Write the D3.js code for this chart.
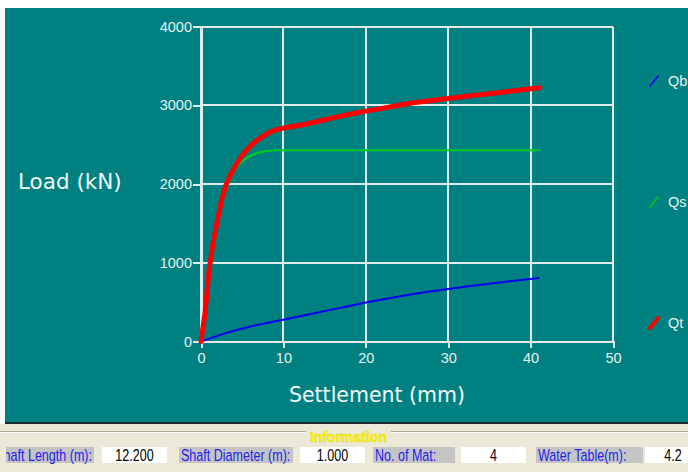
<!DOCTYPE html>
<html>
<head>
<meta charset="utf-8">
<script src="https://cdn.jsdelivr.net/npm/d3@7"></script>
<style>
  html, body { margin: 0; padding: 0; background: #ffffff; }
  svg { display: block; }
</style>
</head>
<body>
<svg id="chart" width="688" height="472"></svg>
<script>
// Pile load–settlement response
const settlement = [0, 0.5, 1, 1.5, 2, 2.5, 3, 3.5, 4, 5, 6, 7, 8, 9, 10, 12, 14, 16, 18, 20, 22, 24, 26, 28, 30, 32, 34, 36, 38, 40, 41];
const qb = [0, 18, 36, 54, 72, 90, 106, 121, 136, 164, 190, 214, 236, 257, 277, 320, 364, 408, 452, 494, 534, 572, 607, 639, 668, 696, 722, 747, 771, 794, 805];
const qs = [0, 355, 900, 1230, 1495, 1740, 1920, 2060, 2170, 2290, 2360, 2400, 2420, 2427, 2428, 2428, 2428, 2428, 2428, 2428, 2428, 2428, 2428, 2428, 2428, 2428, 2428, 2428, 2428, 2428, 2428];
const qt = [0, 370, 930, 1270, 1540, 1800, 1980, 2100, 2200, 2365, 2485, 2570, 2640, 2685, 2710, 2745, 2790, 2840, 2885, 2925, 2960, 3000, 3035, 3060, 3085, 3110, 3135, 3160, 3185, 3210, 3222];
const seriesNames = ["Qb", "Qs", "Qt"];
const xTicks = [0, 10, 20, 30, 40, 50];
const yTicks = [0, 1000, 2000, 3000, 4000];

// Information strip
const infoLabels = ["Shaft Length (m):", "Shaft Diameter (m):", "No. of Mat:", "Water Table(m):"];
const infoValues = ["12.200", "1.000", "4", "4.2"];

const svg = d3.select("#chart");
const TEAL = "#008080";
const seriesStyle = {
  Qb: { color: "#0000f0", width: 2 },
  Qs: { color: "#00cc22", width: 2 },
  Qt: { color: "#ff0000", width: 5 }
};
const seriesData = { Qb: qb, Qs: qs, Qt: qt };

// chart panel
svg.append("rect").attr("x", 5).attr("y", 8).attr("width", 683).attr("height", 415).attr("fill", TEAL);
svg.append("rect").attr("x", 5).attr("y", 422).attr("width", 683).attr("height", 2).attr("fill", "#1c2b2b");

const x = d3.scaleLinear().domain([0, 50]).range([201, 613]);
const y = d3.scaleLinear().domain([0, 4000]).range([341.5, 26.5]);

const gridColor = "#e2eaea";
const g = svg.append("g");

// grid lines
g.selectAll("line.vgrid").data(xTicks).join("line")
  .attr("class", "vgrid")
  .attr("x1", d => x(d)).attr("x2", d => x(d))
  .attr("y1", y(4000)).attr("y2", y(0))
  .attr("stroke", gridColor).attr("stroke-width", 2).attr("shape-rendering", "crispEdges");
g.selectAll("line.hgrid").data(yTicks).join("line")
  .attr("class", "hgrid")
  .attr("x1", x(0)).attr("x2", x(50))
  .attr("y1", d => y(d)).attr("y2", d => y(d))
  .attr("stroke", gridColor).attr("stroke-width", 2).attr("shape-rendering", "crispEdges");

// axes
const tickFont = "'Liberation Sans', Arial, sans-serif";
const yAxis = g.append("g").attr("transform", `translate(${x(0)},0)`)
  .call(d3.axisLeft(y).tickValues(yTicks).tickSize(8).tickPadding(1).tickFormat(d3.format("d")));
const xAxis = g.append("g").attr("transform", `translate(0,${y(0)})`)
  .call(d3.axisBottom(x).tickValues(xTicks).tickSize(6).tickPadding(5).tickFormat(d3.format("d")));
[yAxis, xAxis].forEach(a => {
  a.select(".domain").attr("stroke", gridColor).attr("stroke-width", 2).attr("shape-rendering", "crispEdges");
  a.selectAll(".tick line").attr("stroke", gridColor).attr("stroke-width", 2).attr("shape-rendering", "crispEdges");
  a.selectAll(".tick text").attr("fill", "#e6f0f0").style("font-family", tickFont).style("font-size", "14.5px");
});

// axis titles
svg.append("text").attr("x", 18).attr("y", 189)
  .attr("fill", "#f2f8f8").style("font-family", "'DejaVu Sans', sans-serif").style("font-size", "21.5px")
  .text("Load (kN)");
svg.append("text").attr("x", 377).attr("y", 402).attr("text-anchor", "middle")
  .attr("fill", "#f2f8f8").style("font-family", "'DejaVu Sans', sans-serif").style("font-size", "20.5px")
  .text("Settlement (mm)");

// series lines
const line = d3.line().x((d, i) => x(settlement[i])).y(d => y(d));
g.selectAll("path.series").data(seriesNames).join("path")
  .attr("class", "series")
  .attr("d", n => line(seriesData[n]))
  .attr("fill", "none")
  .attr("stroke", n => seriesStyle[n].color)
  .attr("stroke-width", n => seriesStyle[n].width)
  .attr("stroke-linejoin", "round")
  .attr("stroke-linecap", "round");

// legend
const legend = svg.append("g");
const legendItem = legend.selectAll("g").data(seriesNames).join("g")
  .attr("transform", (d, i) => `translate(650,${81 + i * 121})`);
legendItem.append("line")
  .attr("x1", 0).attr("y1", 5).attr("x2", 8).attr("y2", -5)
  .attr("stroke", d => seriesStyle[d].color)
  .attr("stroke-width", d => seriesStyle[d].width === 2 ? 1.6 : 4)
  .attr("stroke-linecap", "round");
legendItem.append("text")
  .attr("x", 18).attr("y", 5)
  .attr("fill", "#e6f0f0").style("font-family", tickFont).style("font-size", "14.5px")
  .text(d => d);

// information strip
svg.append("rect").attr("x", 0).attr("y", 424).attr("width", 688).attr("height", 48).attr("fill", "#ece9d8");
[[0, 306], [391, 688]].forEach(([a, b]) => {
  svg.append("line").attr("x1", a).attr("x2", b).attr("y1", 431.5).attr("y2", 431.5).attr("stroke", "#aca899").attr("stroke-width", 1);
  svg.append("line").attr("x1", a).attr("x2", b).attr("y1", 432.5).attr("y2", 432.5).attr("stroke", "#ffffff").attr("stroke-width", 1);
});
svg.append("text").attr("x", 348.5).attr("y", 442).attr("text-anchor", "middle")
  .attr("fill", "#ffff00").attr("stroke", "#e0d020").attr("stroke-width", 0.5)
  .style("font-family", "'Liberation Sans', Arial, sans-serif").style("font-size", "14px").style("font-weight", "bold")
  .text("Information");

const labelBoxes = [[6, 94], [179, 293], [373, 455], [536, 643]];
const valueBoxes = [[102, 167], [300, 365], [461, 526], [645, 701]];
svg.append("defs").append("clipPath").attr("id", "stripClip")
  .append("rect").attr("x", 6).attr("y", 424).attr("width", 682).attr("height", 48);
const strip = svg.append("g").attr("clip-path", "url(#stripClip)");
const fieldFont = "'Liberation Sans', Arial, sans-serif";

strip.selectAll("rect.lab").data(infoLabels).join("rect")
  .attr("class", "lab")
  .attr("x", (d, i) => labelBoxes[i][0]).attr("y", 447)
  .attr("width", (d, i) => labelBoxes[i][1] - labelBoxes[i][0]).attr("height", 16)
  .attr("fill", "#c4c4c4");
strip.selectAll("rect.val").data(infoValues).join("rect")
  .attr("class", "val")
  .attr("x", (d, i) => valueBoxes[i][0]).attr("y", 447)
  .attr("width", (d, i) => valueBoxes[i][1] - valueBoxes[i][0]).attr("height", 16)
  .attr("fill", "#ffffff");

// label text: left-aligned in its box (the first runs past the strip's left edge), drawn narrow and tall
strip.selectAll("text.lab").data(infoLabels).join("text")
  .attr("class", "lab")
  .attr("text-anchor", (d, i) => i === 0 ? "end" : "start")
  .attr("transform", (d, i) => `translate(${i === 0 ? labelBoxes[i][1] - 2 : labelBoxes[i][0] + 2},460.5) scale(0.76,1)`)
  .attr("fill", "#2222e8").style("font-family", fieldFont).style("font-size", "16.5px")
  .text(d => d);
strip.selectAll("text.val").data(infoValues).join("text")
  .attr("class", "val")
  .attr("text-anchor", "middle")
  .attr("transform", (d, i) => `translate(${i === 3 ? 673 : (valueBoxes[i][0] + valueBoxes[i][1]) / 2},460.5) scale(0.76,1)`)
  .attr("fill", "#000000").style("font-family", fieldFont).style("font-size", "16.5px")
  .text(d => d);
</script>
</body>
</html>
